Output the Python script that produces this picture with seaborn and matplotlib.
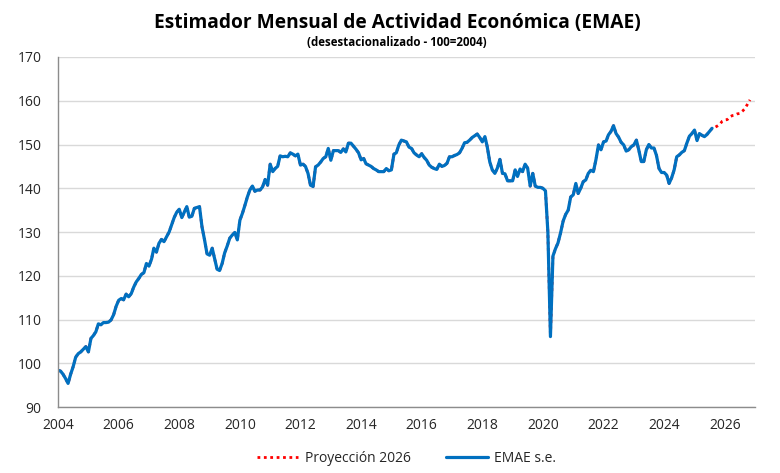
import pandas as pd
import matplotlib
matplotlib.use("Agg")
import matplotlib.pyplot as plt
import matplotlib.dates as mdates
import seaborn as sns

# EMAE desestacionalizado, mensual desde ene-2004
emae = [
    98.4, 98.2, 97.5, 96.5, 95.4, 97.5, 99.2, 101.4, 102.2, 102.6, 103.2, 103.8,   # 2004
    102.6, 105.7, 106.3, 107.2, 109.0, 108.8, 109.3, 109.3, 109.4, 109.9, 111.1, 113.0,  # 2005
    114.4, 114.8, 114.5, 115.8, 115.2, 115.9, 117.4, 118.6, 119.4, 120.3, 120.7, 122.8,  # 2006
    122.2, 123.8, 126.3, 125.4, 127.4, 128.3, 127.8, 128.9, 130.0, 131.6, 133.3, 134.5,  # 2007
    135.2, 133.3, 134.5, 135.8, 133.4, 133.6, 135.4, 135.6, 135.8, 131.2, 128.2, 125.0,  # 2008
    124.7, 126.3, 124.0, 121.5, 121.2, 122.8, 125.2, 126.8, 128.6, 129.3, 129.9, 128.2,  # 2009
    132.7, 134.3, 136.0, 138.0, 139.6, 140.5, 139.3, 139.6, 139.6, 140.3, 142.0, 140.7,  # 2010
    145.5, 143.8, 144.5, 145.0, 147.4, 147.2, 147.3, 147.2, 148.1, 147.8, 147.4, 147.8,  # 2011
    145.3, 145.5, 145.0, 143.4, 140.7, 140.4, 144.9, 145.3, 146.0, 146.8, 147.2, 149.1,  # 2012
    146.4, 148.6, 148.6, 148.6, 148.2, 149.0, 148.3, 150.3, 150.3, 149.6, 148.9, 148.1,  # 2013
    146.5, 146.8, 145.6, 145.3, 145.0, 144.5, 144.2, 143.8, 143.8, 143.8, 144.5, 144.0,  # 2014
    144.2, 147.8, 148.1, 149.9, 151.0, 150.8, 150.6, 149.4, 149.1, 148.1, 147.6, 147.2,  # 2015
    147.9, 147.0, 146.4, 145.3, 144.8, 144.5, 144.3, 145.5, 145.0, 145.2, 145.7, 147.2,  # 2016
    147.2, 147.5, 147.7, 148.1, 149.1, 150.4, 150.5, 151.0, 151.6, 152.0, 152.4, 151.6,  # 2017
    150.6, 151.8, 149.5, 146.0, 144.2, 143.4, 144.6, 146.6, 143.4, 143.3, 141.7, 141.7,  # 2018
    141.7, 144.2, 142.7, 144.4, 143.8, 145.5, 144.6, 140.5, 143.4, 140.5, 140.2, 140.2,  # 2019
    140.0, 139.4, 130.0, 106.1, 124.5, 126.2, 127.5, 129.8, 132.5, 134.0, 135.0, 138.0,  # 2020
    138.5, 141.1, 138.8, 140.0, 141.5, 141.9, 143.4, 144.1, 143.8, 146.5, 149.9, 148.8,  # 2021
    150.6, 150.8, 152.2, 153.0, 154.3, 152.5, 151.7, 150.5, 149.9, 148.5, 148.8, 149.5,  # 2022
    149.9, 151.0, 148.8, 146.1, 146.1, 148.8, 150.0, 149.2, 149.2, 147.5, 144.5, 143.6,  # 2023
    143.6, 143.0, 141.1, 142.4, 144.2, 147.2, 147.6, 148.2, 148.6, 150.3, 151.9, 152.5,  # 2024
    153.3, 150.9, 152.5, 152.1, 151.8, 152.3, 153.0, 153.7,                              # 2025
]

# proyeccion sep-2025 a nov-2026
proyeccion = [153.9, 154.2, 154.6, 155.3, 155.6, 155.7, 156.3, 156.6, 156.7, 157.0,
              157.1, 157.6, 158.2, 159.2, 160.2]

fechas_emae = pd.date_range("2004-01-01", periods=len(emae), freq="MS")
fechas_proy = pd.date_range("2004-01-01", periods=len(emae) + len(proyeccion), freq="MS")

df_emae = pd.DataFrame({"fecha": fechas_emae, "valor": emae})
df_proy = pd.DataFrame({"fecha": fechas_proy, "valor": emae + proyeccion})

sns.set_style("white")
plt.rcParams["font.family"] = ["Open Sans", "DejaVu Sans"]

fig = plt.figure(figsize=(7.8, 4.73), dpi=100)
ax = fig.add_axes([0.0744, 0.1395, 0.8936, 0.74])

sns.lineplot(data=df_proy, x="fecha", y="valor", ax=ax, color="#ff0000",
             linestyle=(0, (1, 1.3)), linewidth=2.0, label="Proyección 2026")
sns.lineplot(data=df_emae, x="fecha", y="valor", ax=ax, color="#0070c0",
             linewidth=2.3, label="EMAE s.e.")

ax.set_xlim(pd.Timestamp("2004-01-01"), pd.Timestamp("2027-01-01"))
ax.set_ylim(90, 170)
ax.set_yticks(range(90, 171, 10))
ax.xaxis.set_major_locator(mdates.YearLocator(2))
ax.xaxis.set_major_formatter(mdates.DateFormatter("%Y"))
ax.set_xlabel("")
ax.set_ylabel("")

ax.yaxis.grid(True, color="#d9d9d9", linewidth=1.0)
ax.xaxis.grid(False)
ax.set_axisbelow(True)
for s in ["top", "right"]:
    ax.spines[s].set_visible(False)
for s in ["left", "bottom"]:
    ax.spines[s].set_color("#8c8c8c")
    ax.spines[s].set_linewidth(1.0)

ax.tick_params(axis="x", which="major", length=4, width=1, color="#8c8c8c",
               labelsize=10, labelcolor="#262626", pad=4)
ax.tick_params(axis="y", length=0, labelsize=10, labelcolor="#262626", pad=12)

fig.text(0.509, 0.951, "Estimador Mensual de Actividad Económica (EMAE)",
         ha="center", va="center", fontsize=13.8, fontweight="bold", color="#000000")
fig.text(0.509, 0.910, "(desestacionalizado - 100=2004)",
         ha="center", va="center", fontsize=8.3, fontweight="bold", color="#000000")

leg = ax.legend(loc="upper center", bbox_to_anchor=(0.5, -0.09), ncol=2,
                frameon=False, fontsize=10, handlelength=3.0, columnspacing=2.5,
                handletextpad=0.5)
for t in leg.get_texts():
    t.set_color("#262626")

fig.savefig("out.png", dpi=100)
